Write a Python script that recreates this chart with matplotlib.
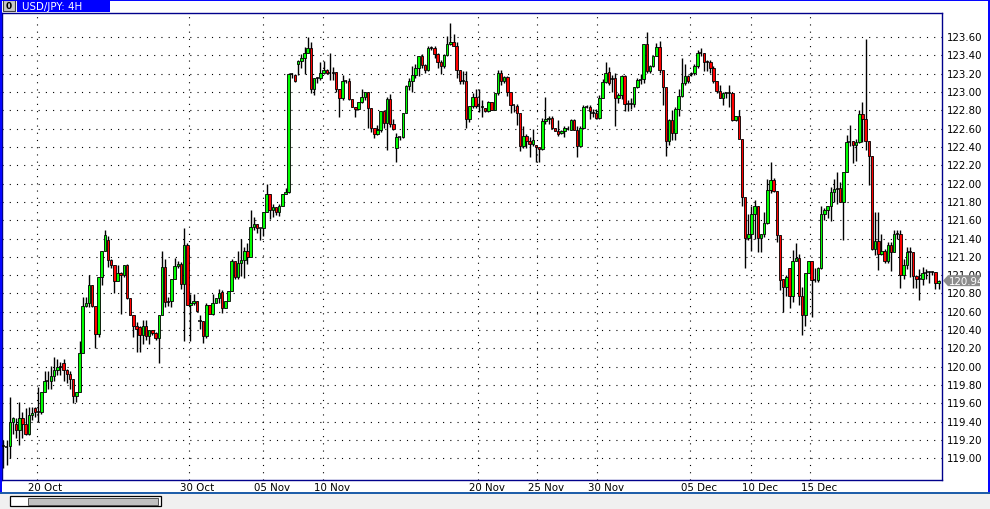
import matplotlib
matplotlib.use("Agg")
import matplotlib.pyplot as plt
from matplotlib.patches import Rectangle, Polygon
from matplotlib.lines import Line2D
from matplotlib.transforms import offset_copy
import numpy as np

# ---------------- data (USD/JPY, 4H candles) ----------------
symbol_title = "USD/JPY: 4H"

opens = [
    119.13, 119.12, 119.13, 119.40, 119.38, 119.31, 119.44, 119.38, 119.27, 119.47,
    119.55, 119.51, 119.51, 119.73, 119.84, 119.84, 119.90, 119.96, 120.00, 120.04,
    119.96, 119.92, 119.87, 119.68, 119.73, 120.15, 120.66, 120.70, 120.89, 120.66,
    120.36, 120.98, 121.26, 121.38, 121.17, 121.11, 120.94, 121.02, 121.00, 121.11,
    120.75, 120.57, 120.45, 120.43, 120.35, 120.45, 120.34, 120.40, 120.37, 120.31,
    120.56, 121.09, 120.71, 120.72, 120.96, 121.10, 121.12,
    120.90, 121.33, 120.67,
    120.70, 120.72, 120.50, 120.50, 120.34, 120.67, 120.58, 120.70, 120.75, 120.82,
    120.64, 120.72, 120.83, 121.15, 120.98, 121.13, 121.17, 121.26, 121.20, 121.53,
    121.56, 121.51, 121.51, 121.69, 121.89, 121.71, 121.74, 121.69, 121.76, 121.89,
    121.91, 123.20, 123.19, 123.31, 123.34, 123.37, 123.43, 123.48, 123.03, 123.15,
    123.15, 123.21, 123.24, 123.21, 123.21, 123.22, 123.03, 122.93, 123.12, 123.12,
    122.92, 122.84, 122.81, 122.89, 122.95, 123.00, 122.83, 122.61, 122.54, 122.59,
    122.79, 122.66, 122.92, 122.65, 122.39, 122.51, 122.51, 122.77, 123.06, 123.12,
    123.18, 123.26, 123.39, 123.29, 123.24, 123.48, 123.48, 123.41, 123.33, 123.28,
    123.40, 123.52, 123.54, 123.50, 123.24, 123.12, 123.12, 122.70, 122.85, 122.95,
    122.85, 122.84, 122.83, 122.79, 122.89, 122.80, 122.99, 123.21, 123.12, 123.16,
    123.00, 122.86, 122.85, 122.77, 122.41, 122.52, 122.46, 122.43, 122.42, 122.40,
    122.38, 122.68, 122.70, 122.72, 122.61, 122.57, 122.55, 122.57, 122.60, 122.59,
    122.69, 122.59, 122.41, 122.61, 122.84, 122.84, 122.77, 122.77, 122.72, 122.93,
    123.11, 123.22, 123.14, 123.15, 122.93, 122.97, 123.17, 122.87, 122.87, 122.87,
    123.05, 123.13, 123.14, 123.52, 123.23, 123.28, 123.39, 123.49, 123.24, 123.05,
    122.47, 122.69, 122.55, 122.81, 122.96, 123.10, 123.17, 123.20, 123.21, 123.28,
    123.42, 123.42, 123.33, 123.33, 123.26, 123.12, 123.01, 122.93, 122.99, 122.99,
    122.99, 122.69, 122.74, 122.49, 121.85, 121.41, 121.45, 121.67, 121.76, 121.41,
    121.45, 121.57, 121.93, 122.04, 121.92, 121.44, 120.96, 120.87, 121.08, 120.77,
    121.15, 121.19, 120.77, 120.57, 121.02, 121.15, 120.95, 120.95, 121.08, 121.67,
    121.71, 121.75, 121.91, 121.94, 121.95, 121.80, 122.13, 122.45, 122.46, 122.42,
    122.45, 122.76, 122.71, 122.47, 122.30, 121.29, 121.37, 121.23, 121.26, 121.15,
    121.33, 121.25, 121.45, 121.45, 121.00, 121.11, 121.25, 121.25, 120.99, 120.96,
    120.96, 121.02, 121.03, 121.04, 121.04, 120.91,
]

highs = [
    119.20, 119.20, 119.67, 119.45, 119.44, 119.62, 119.51, 119.55, 119.56, 119.56,
    119.56, 119.78, 119.73, 119.95, 119.95, 120.01, 120.11, 120.09, 120.05, 120.09,
    119.98, 119.95, 119.87, 119.73, 120.28, 120.76, 120.76, 121.00, 120.89, 120.66,
    120.98, 121.26, 121.49, 121.43, 121.18, 121.11, 121.11, 121.03, 121.11, 121.12,
    120.75, 120.57, 120.49, 120.44, 120.51, 120.51, 120.40, 120.40, 120.38, 120.56,
    121.26, 121.18, 120.76, 120.96, 121.19, 121.15, 121.14,
    121.51, 121.35, 120.79,
    120.79, 120.72, 120.57, 120.50, 120.70, 120.67, 120.79, 120.75, 120.85, 120.84,
    120.72, 120.83, 121.18, 121.15, 121.26, 121.39, 121.31, 121.35, 121.71, 121.63,
    121.56, 121.51, 121.69, 122.00, 121.89, 121.78, 121.74, 121.78, 121.89, 121.95,
    123.21, 123.21, 123.20, 123.35, 123.41, 123.49, 123.60, 123.54, 123.15, 123.16,
    123.33, 123.34, 123.25, 123.42, 123.27, 123.22, 123.03, 123.18, 123.13, 123.15,
    122.92, 122.84, 122.89, 123.03, 123.00, 123.00, 122.83, 122.61, 122.64, 122.79,
    122.80, 122.94, 122.98, 122.70, 122.55, 122.52, 122.77, 123.08, 123.15, 123.28,
    123.31, 123.39, 123.41, 123.31, 123.50, 123.50, 123.50, 123.42, 123.35, 123.41,
    123.61, 123.75, 123.63, 123.54, 123.24, 123.23, 123.23, 122.85, 122.99, 123.03,
    123.03, 122.91, 122.83, 122.90, 122.89, 122.99, 123.24, 123.24, 123.17, 123.17,
    123.00, 122.86, 122.87, 122.77, 122.63, 122.54, 122.51, 122.60, 122.42, 122.40,
    122.72, 122.94, 122.74, 122.74, 122.61, 122.69, 122.59, 122.63, 122.63, 122.70,
    122.70, 122.63, 122.63, 122.86, 122.86, 122.86, 122.81, 122.81, 122.97, 123.14,
    123.33, 123.27, 123.18, 123.21, 122.99, 123.19, 123.19, 122.91, 122.93, 123.05,
    123.15, 123.20, 123.52, 123.66, 123.29, 123.39, 123.53, 123.56, 123.24, 123.05,
    122.70, 122.80, 122.84, 123.03, 123.37, 123.31, 123.19, 123.22, 123.31, 123.46,
    123.48, 123.43, 123.35, 123.35, 123.28, 123.12, 123.08, 123.00, 123.00, 123.08,
    122.99, 122.74, 122.80, 122.49, 121.85, 121.67, 121.76, 121.82, 121.76, 121.45,
    121.69, 122.05, 122.24, 122.06, 121.92, 121.44, 120.96, 121.00, 121.08, 121.27,
    121.35, 121.23, 120.87, 121.02, 121.16, 121.16, 121.08, 121.09, 121.76, 121.73,
    121.75, 121.96, 122.05, 122.13, 122.02, 122.13, 122.53, 122.64, 122.46, 122.49,
    122.80, 122.89, 123.58, 122.47, 122.30, 121.69, 121.69, 121.45, 121.29, 121.36,
    121.36, 121.49, 121.49, 121.49, 121.18, 121.31, 121.31, 121.25, 121.00, 121.07,
    121.09, 121.07, 121.05, 121.05, 121.04, 120.95,
]

lows = [
    118.90, 118.93, 119.00, 119.27, 119.22, 119.15, 119.22, 119.25, 119.25, 119.42,
    119.45, 119.40, 119.48, 119.73, 119.76, 119.76, 119.84, 119.91, 119.91, 119.84,
    119.82, 119.76, 119.61, 119.62, 119.73, 120.15, 120.65, 120.65, 120.65, 120.21,
    120.33, 120.89, 121.26, 121.09, 121.08, 120.80, 120.94, 120.58, 120.98, 120.74,
    120.56, 120.33, 120.16, 120.16, 120.25, 120.29, 120.25, 120.35, 120.29, 120.04,
    120.56, 120.65, 120.66, 120.65, 120.96, 121.08, 120.85,
    120.28, 120.67, 120.28,
    120.67, 120.60, 120.41, 120.26, 120.31, 120.58, 120.57, 120.70, 120.70, 120.59,
    120.64, 120.72, 120.83, 120.96, 120.96, 120.99, 120.97, 121.12, 121.20, 121.49,
    121.46, 121.38, 121.43, 121.69, 121.61, 121.63, 121.66, 121.65, 121.76, 121.89,
    121.90, 123.15, 123.11, 123.19, 123.26, 123.20, 123.42, 122.99, 122.97, 123.10,
    123.13, 123.20, 123.20, 123.13, 123.13, 123.00, 122.73, 122.91, 123.10, 122.91,
    122.84, 122.73, 122.80, 122.88, 122.91, 122.61, 122.56, 122.50, 122.53, 122.56,
    122.61, 122.37, 122.62, 122.59, 122.23, 122.48, 122.50, 122.77, 123.02, 123.00,
    123.15, 123.17, 123.26, 123.21, 123.23, 123.46, 123.37, 123.26, 123.20, 123.26,
    123.39, 123.51, 123.50, 123.15, 123.09, 123.09, 122.61, 122.67, 122.83, 122.83,
    122.78, 122.73, 122.78, 122.78, 122.80, 122.80, 122.97, 123.08, 123.10, 122.96,
    122.77, 122.78, 122.64, 122.36, 122.39, 122.39, 122.29, 122.41, 122.23, 122.23,
    122.37, 122.65, 122.65, 122.60, 122.57, 122.52, 122.54, 122.51, 122.59, 122.59,
    122.59, 122.29, 122.41, 122.60, 122.82, 122.71, 122.73, 122.71, 122.71, 122.93,
    123.10, 123.08, 123.00, 122.63, 122.88, 122.92, 122.79, 122.79, 122.81, 122.84,
    123.04, 123.09, 123.10, 123.21, 123.21, 123.27, 123.39, 123.21, 122.86, 122.30,
    122.42, 122.48, 122.48, 122.74, 122.94, 123.08, 123.10, 123.17, 123.19, 123.26,
    123.39, 123.23, 123.23, 123.21, 123.10, 122.99, 122.93, 122.86, 122.93, 122.84,
    122.68, 122.68, 122.49, 121.76, 121.08, 121.38, 121.26, 121.40, 121.25, 121.25,
    121.42, 121.56, 121.90, 121.91, 121.36, 120.84, 120.60, 120.77, 120.64, 120.71,
    121.15, 120.67, 120.35, 120.45, 121.02, 120.54, 120.93, 120.93, 121.07, 121.60,
    121.62, 121.59, 121.80, 121.78, 121.80, 121.38, 122.13, 122.41, 122.22, 122.25,
    122.44, 122.45, 122.37, 121.98, 121.28, 121.22, 121.06, 121.22, 121.13, 121.13,
    121.05, 121.25, 121.40, 120.86, 120.96, 121.07, 120.98, 120.86, 120.86, 120.73,
    120.89, 120.96, 120.91, 121.00, 120.85, 120.85,
]

closes = [
    119.12, 119.13, 119.40, 119.44, 119.31, 119.44, 119.38, 119.27, 119.47, 119.50,
    119.51, 119.51, 119.73, 119.84, 119.84, 119.90, 119.96, 120.00, 120.01, 119.96,
    119.92, 119.87, 119.68, 119.73, 120.15, 120.66, 120.70, 120.89, 120.66, 120.36,
    120.98, 121.26, 121.44, 121.17, 121.11, 120.94, 121.02, 121.00, 121.11, 120.75,
    120.57, 120.45, 120.41, 120.35, 120.45, 120.34, 120.40, 120.37, 120.31, 120.56,
    121.09, 120.71, 120.72, 120.96, 121.10, 121.12, 120.90,
    121.33, 120.67, 120.70,
    120.72, 120.61, 120.50, 120.34, 120.67, 120.58, 120.70, 120.75, 120.81, 120.64,
    120.72, 120.83, 121.15, 120.98, 121.13, 121.17, 121.26, 121.20, 121.53, 121.56,
    121.51, 121.51, 121.69, 121.89, 121.71, 121.74, 121.69, 121.76, 121.89, 121.91,
    123.20, 123.19, 123.12, 123.34, 123.37, 123.43, 123.48, 123.03, 123.15, 123.15,
    123.21, 123.24, 123.21, 123.21, 123.22, 123.03, 122.93, 123.12, 123.12, 122.92,
    122.84, 122.81, 122.89, 122.95, 123.00, 122.83, 122.61, 122.54, 122.59, 122.79,
    122.66, 122.92, 122.65, 122.60, 122.51, 122.51, 122.77, 123.06, 123.12, 123.18,
    123.26, 123.39, 123.29, 123.24, 123.48, 123.48, 123.41, 123.33, 123.28, 123.40,
    123.52, 123.54, 123.50, 123.24, 123.12, 123.12, 122.70, 122.85, 122.95, 122.85,
    122.84, 122.83, 122.79, 122.89, 122.80, 122.99, 123.21, 123.12, 123.16, 123.00,
    122.86, 122.85, 122.77, 122.41, 122.52, 122.46, 122.43, 122.48, 122.40, 122.38,
    122.68, 122.70, 122.72, 122.61, 122.57, 122.54, 122.57, 122.61, 122.59, 122.69,
    122.59, 122.41, 122.61, 122.84, 122.84, 122.79, 122.77, 122.72, 122.93, 123.11,
    123.21, 123.10, 123.15, 122.93, 122.97, 123.17, 122.87, 122.87, 122.87, 123.05,
    123.13, 123.14, 123.52, 123.23, 123.28, 123.39, 123.49, 123.24, 123.05, 122.47,
    122.69, 122.55, 122.81, 122.96, 123.10, 123.17, 123.12, 123.21, 123.28, 123.42,
    123.42, 123.33, 123.33, 123.26, 123.12, 123.01, 122.93, 122.99, 122.99, 122.99,
    122.69, 122.74, 122.49, 121.85, 121.41, 121.45, 121.67, 121.76, 121.41, 121.45,
    121.57, 121.93, 122.04, 121.92, 121.44, 120.95, 120.87, 120.98, 120.77, 121.15,
    121.19, 120.77, 120.57, 121.02, 121.15, 120.95, 120.95, 121.08, 121.67, 121.71,
    121.75, 121.91, 121.94, 121.95, 121.80, 122.13, 122.45, 122.46, 122.42, 122.45,
    122.76, 122.71, 122.47, 122.30, 121.29, 121.37, 121.23, 121.26, 121.15, 121.33,
    121.25, 121.45, 121.45, 121.00, 121.11, 121.25, 121.25, 120.99, 120.96, 120.96,
    121.02, 121.03, 121.04, 121.04, 120.91, 120.94,
]

date_labels = ["20 Oct", "30 Oct", "05 Nov", "10 Nov", "20 Nov",
               "25 Nov", "30 Nov", "05 Dec", "10 Dec", "15 Dec"]
date_tick_index = [10.6, 58.6, 81.9, 100.8, 149.7, 168.4, 187.3, 216.6, 235.9, 254.5]
price_ticks = [119.00, 119.20, 119.40, 119.60, 119.80, 120.00, 120.20, 120.40,
               120.60, 120.80, 121.00, 121.20, 121.40, 121.60, 121.80, 122.00,
               122.20, 122.40, 122.60, 122.80, 123.00, 123.20, 123.40, 123.60]

# ---------------- figure ----------------
W, H = 990, 510
fig = plt.figure(figsize=(W / 100, H / 100), dpi=100)
fig.patch.set_facecolor("white")

def fx(px):
    return px / W

def fy(py):
    return 1 - py / H

# plot area (pixel frame: left 2, top 14, right 942, bottom 481)
ax = fig.add_axes([fx(2), fy(481), fx(942) - fx(2), fy(14) - fy(481)])
ax.set_facecolor("white")
n = len(closes)
ax.set_xlim(-0.45, n + 0.1)
ax.set_ylim(118.764, 123.862)
ax.set_xticks([])
ax.set_yticks([])
for s in ax.spines.values():
    s.set_color("#00008b")
    s.set_linewidth(1.0)

# grid (dotted)
for p in price_ticks:
    ax.axhline(p, color="#000000", lw=0.8, linestyle=(0, (1, 5.5)), zorder=0)
for xi in date_tick_index:
    ax.axvline(xi, color="#000000", lw=0.8, linestyle=(0, (1, 5.5)), zorder=0)

# candles
bw = 0.78
for i in range(n):
    o, h, l, c = opens[i], highs[i], lows[i], closes[i]
    h = max(h, o, c)
    l = min(l, o, c)
    ax.vlines(i, l, h, color="black", lw=1.0, zorder=2)
    if abs(c - o) < 0.012:
        ax.hlines(o, i - bw / 2 - 0.1, i + bw / 2 + 0.1, color="black", lw=1.1, zorder=3)
    else:
        fc = "#00ff00" if c > o else "#ff0000"
        ax.add_patch(Rectangle((i - bw / 2, min(o, c)), bw, abs(c - o),
                               facecolor=fc, edgecolor="black", lw=0.6, zorder=3))

# price labels at right
ytr = ax.get_yaxis_transform()
for p in price_ticks:
    ax.text(1.0053, p, f"{p:.2f}", transform=ytr, ha="left", va="center",
            fontsize=7.4, color="black", clip_on=False)

# current price tag (drawn over the neighbouring label, as in the terminal)
disp_y = ax.transData.transform((0, closes[-1]))[1]
py = H - disp_y
tag = Polygon([(fx(943), fy(py)), (fx(948), fy(py - 5.5)), (fx(980), fy(py - 5.5)),
               (fx(980), fy(py + 5.5)), (fx(948), fy(py + 5.5))],
              closed=True, transform=fig.transFigure, facecolor="#8c8c8c",
              edgecolor="none", zorder=10)
fig.patches.append(tag)
fig.text(fx(949), fy(py), f"{closes[-1]:.2f}", ha="left", va="center",
         fontsize=7.4, color="white", zorder=11)

# date labels
xtr = offset_copy(ax.get_xaxis_transform(), fig=fig, x=-9, y=0, units="dots")
for xi, lab in zip(date_tick_index, date_labels):
    ax.text(xi, -0.015, lab, transform=xtr, ha="left", va="center",
            fontsize=7.4, color="black", clip_on=False)

# title tab
fig.patches.append(Rectangle((fx(17), fy(13)), fx(110) - fx(17), fy(0) - fy(13),
                             transform=fig.transFigure, facecolor="#0000ff",
                             edgecolor="none", zorder=5))
fig.text(fx(22), fy(7), symbol_title, ha="left", va="center", fontsize=7.4,
         color="white", zorder=6)
# small icon button
fig.patches.append(Rectangle((fx(3), fy(12)), fx(15) - fx(3), fy(1) - fy(12),
                             transform=fig.transFigure, facecolor="#c8c8c8",
                             edgecolor="#404040", lw=0.8, zorder=5))
fig.text(fx(9), fy(6.5), "0", ha="center", va="center", fontsize=6.5,
         fontweight="bold", color="black", zorder=6)

# bottom grey scroll area
fig.patches.append(Rectangle((0, 0), 1, fy(494), transform=fig.transFigure,
                             facecolor="#f0f0f0", edgecolor="none", zorder=1))
fig.patches.append(Rectangle((fx(10), fy(507)), fx(161) - fx(10), fy(497) - fy(507),
                             transform=fig.transFigure, facecolor="white",
                             edgecolor="black", lw=0.9, zorder=2))
fig.patches.append(Rectangle((fx(28), fy(506)), fx(158) - fx(28), fy(499) - fy(506),
                             transform=fig.transFigure, facecolor="#c0c0c0",
                             edgecolor="#505050", lw=0.7, zorder=3))

# outer window border
bc = "#0000ff"
for (x0, y0, x1, y1) in [(0.5, 0.5, 989.5, 0.5), (1, 0, 1, 494), (988.5, 0, 988.5, 494),
                         (0, 494, 990, 494)]:
    fig.lines.append(Line2D([fx(x0), fx(x1)], [fy(y0), fy(y1)], transform=fig.transFigure,
                            color=bc if y0 != 494 else "#1a5aa8", lw=1.4, zorder=8))

fig.savefig("out.png", dpi=100, facecolor=fig.get_facecolor())
